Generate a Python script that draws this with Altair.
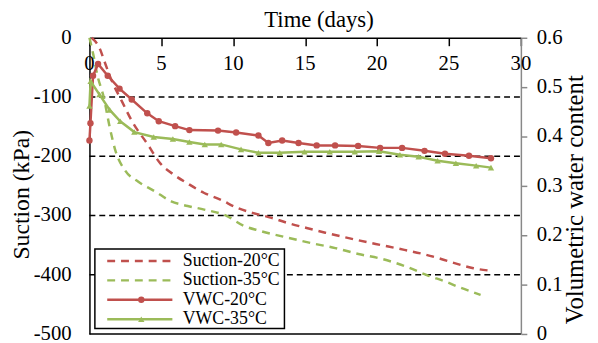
import altair as alt
import pandas as pd

FONT = "Liberation Serif"

labels = ["Suction-20°C", "Suction-35°C", "VWC-20°C", "VWC-35°C"]
colors = ["#C0504D", "#9BBB59", "#C0504D", "#9BBB59"]
dashes = [[8, 6], [8, 6], [1, 0], [1, 0]]
shapes = ["circle", "circle", "circle", "triangle-up"]

x_ticks = [0, 5, 10, 15, 20, 25, 30]
x_tick_labels = ["0", "5", "10", "15", "20", "25", "30"]
left_ticks = [0, -100, -200, -300, -400, -500]
left_tick_labels = ["0", "-100", "-200", "-300", "-400", "-500"]
right_ticks = [0, 0.1, 0.2, 0.3, 0.4, 0.5, 0.6]
right_tick_labels = ["0", "0.1", "0.2", "0.3", "0.4", "0.5", "0.6"]
grid_vals = [-100, -200, -300, -400]
titles = ["Time (days)", "Suction (kPa)", "Volumetric water content"]

days_s20 = [0.15, 0.75, 1.0, 1.56, 2.25, 2.94, 4.08, 4.89, 5.92, 6.83, 7.98, 9.1,
            10.26, 11.4, 12.66, 13.7, 15.1, 16.4, 17.8, 19.9, 21.9, 23.2, 24.4,
            25.9, 26.7, 27.8]
suction_20 = [0, -20, -37, -73, -107, -140, -181, -211, -232, -246, -262, -273,
              -287, -296, -304, -312, -321, -329, -337, -348, -358, -365, -373,
              -384, -389, -393]

days_s35 = [0, 0.3, 0.54, 1.0, 1.4, 1.8, 2.48, 3.4, 4.54, 5.68, 6.83, 7.98, 9.57,
            10.7, 11.86, 13.7, 15.5, 17.1, 18.7, 20.3, 22.1, 23.5, 24.8, 25.6, 27.2]
suction_35 = [0, -32, -62, -101, -150, -190, -224, -243, -259, -276, -284, -290,
              -301, -317, -326, -337, -347, -355, -365, -373, -387, -401, -412,
              -420, -434]

days_v20 = [0, 0.07, 0.25, 0.6, 1.27, 2.09, 2.94, 4.02, 4.82, 5.96, 6.95, 8.94,
            10.2, 11.75, 12.44, 13.4, 14.54, 15.8, 17.08, 18.68, 20.21, 21.74,
            23.3, 24.72, 26.39, 27.92]
vwc_20 = [0.392, 0.427, 0.523, 0.547, 0.523, 0.497, 0.475, 0.447, 0.431, 0.421,
          0.413, 0.412, 0.408, 0.402, 0.387, 0.392, 0.387, 0.382, 0.382, 0.381,
          0.377, 0.377, 0.371, 0.365, 0.361, 0.356]

days_v35 = [0, 0.08, 0.7, 1.41, 2.14, 3.12, 4.47, 5.8, 6.95, 8.02, 9.16, 10.54,
            11.75, 13.23, 14.95, 16.71, 18.45, 20.14, 21.59, 22.89, 24.21, 25.48,
            26.89, 27.92]
vwc_35 = [0.462, 0.512, 0.485, 0.454, 0.431, 0.409, 0.399, 0.395, 0.389, 0.384,
          0.384, 0.374, 0.367, 0.367, 0.369, 0.369, 0.369, 0.37, 0.363, 0.359,
          0.351, 0.346, 0.341, 0.337]

suction_df = pd.concat([
    pd.DataFrame({"day": days_s20, "value": suction_20, "series": labels[0]}),
    pd.DataFrame({"day": days_s35, "value": suction_35, "series": labels[1]}),
])
vwc_df = pd.concat([
    pd.DataFrame({"day": days_v20, "vwc": vwc_20, "series": labels[2]}),
    pd.DataFrame({"day": days_v35, "vwc": vwc_35, "series": labels[3]}),
])
grid_df = pd.DataFrame({"g": grid_vals})
legend_df = pd.DataFrame({"label": labels, "idx": list(range(len(labels)))})
xlab_df = pd.DataFrame({"t": x_ticks, "txt": x_tick_labels})
llab_df = pd.DataFrame({"t": left_ticks, "txt": left_tick_labels})
rlab_df = pd.DataFrame({"t": right_ticks, "txt": right_tick_labels})

W, H = 437, 300

cscale = alt.Scale(domain=labels, range=colors)
dscale = alt.Scale(domain=labels, range=dashes)
sscale = alt.Scale(domain=labels, range=shapes)

x_axis = alt.Axis(orient="bottom", offset=-H, values=x_ticks, tickSize=8,
                  tickColor="black", tickWidth=1.5, domainColor="black",
                  domainWidth=1.5, labels=False, title=None, grid=False)
x_scale = alt.Scale(domain=[0, 30], nice=False)
x_enc = alt.X("day:Q", scale=x_scale, axis=x_axis)

left_scale = alt.Scale(domain=[-500, 0], nice=False)
left_axis = alt.Axis(orient="left", values=left_ticks, ticks=False, tickSize=0,
                     domainColor="black", domainWidth=1.5, labels=False,
                     title=None, grid=False)

right_scale = alt.Scale(domain=[0, 0.6], nice=False)
right_axis = alt.Axis(orient="right", values=right_ticks, tickSize=6,
                      tickColor="#888888", tickWidth=1.5, domainColor="#888888",
                      domainWidth=1.5, labels=False, title=None, grid=False)

TXT = dict(font=FONT, fontSize=21, color="black")

grid = alt.Chart(grid_df).mark_rule(color="black", strokeWidth=1.5,
                                     strokeDash=[6, 4]).encode(
    y=alt.Y("g:Q", scale=left_scale, axis=left_axis),
    x=alt.value(0), x2=alt.value(W))

bottom = alt.Chart(pd.DataFrame({"b": [-500]})).mark_rule(
    color="black", strokeWidth=1.5).encode(
    y=alt.Y("b:Q", scale=left_scale, axis=left_axis),
    x=alt.value(0), x2=alt.value(W))

suction = alt.Chart(suction_df).mark_line(strokeWidth=2.5, interpolate="monotone").encode(
    x=x_enc,
    y=alt.Y("value:Q", scale=left_scale, axis=left_axis),
    color=alt.Color("series:N", scale=cscale, legend=None),
    strokeDash=alt.StrokeDash("series:N", scale=dscale, legend=None),
    detail="series:N")

left_labels = alt.Chart(llab_df).mark_text(align="right", baseline="middle",
                                           **TXT).encode(
    y=alt.Y("t:Q", scale=left_scale, axis=left_axis),
    x=alt.value(-18), text="txt:N")

xlabels = alt.Chart(xlab_df).mark_text(align="center", baseline="middle",
                                       **TXT).encode(
    x=alt.X("t:Q", scale=x_scale, axis=x_axis),
    y=alt.value(27), text="txt:N")

left = alt.layer(grid, bottom, suction, left_labels, xlabels)

vwc_line = alt.Chart(vwc_df).mark_line(strokeWidth=2.5).encode(
    x=x_enc,
    y=alt.Y("vwc:Q", scale=right_scale, axis=right_axis),
    color=alt.Color("series:N", scale=cscale, legend=None),
    detail="series:N")
vwc_pts = alt.Chart(vwc_df).mark_point(filled=True, size=42, opacity=1).encode(
    x=x_enc,
    y=alt.Y("vwc:Q", scale=right_scale, axis=right_axis),
    color=alt.Color("series:N", scale=cscale, legend=None),
    shape=alt.Shape("series:N", scale=sscale, legend=None))
right_labels = alt.Chart(rlab_df).mark_text(align="left", baseline="middle",
                                            **TXT).encode(
    y=alt.Y("t:Q", scale=right_scale, axis=right_axis),
    x=alt.value(W + 16), text="txt:N")
right = alt.layer(vwc_line, vwc_pts, right_labels)

box = alt.Chart(pd.DataFrame({"a": [0]})).mark_rect(
    fill="white", stroke="black", strokeWidth=1.5).encode(
    x=alt.value(5.5), x2=alt.value(197.5), y=alt.value(214), y2=alt.value(294.5))

leg_base = alt.Chart(legend_df).transform_calculate(ly="226 + datum.idx * 19.7")
leg_lines = leg_base.mark_rule(strokeWidth=2.5).encode(
    x=alt.value(18), x2=alt.value(84),
    y=alt.Y("ly:Q", scale=None, axis=None),
    color=alt.Color("label:N", scale=cscale, legend=None),
    strokeDash=alt.StrokeDash("label:N", scale=dscale, legend=None))
leg_pts = leg_base.transform_filter("datum.idx >= 2").mark_point(
    filled=True, size=42, opacity=1).encode(
    x=alt.value(52.5),
    y=alt.Y("ly:Q", scale=None, axis=None),
    color=alt.Color("label:N", scale=cscale, legend=None),
    shape=alt.Shape("label:N", scale=sscale, legend=None))
leg_text = leg_base.mark_text(align="left", baseline="middle", font=FONT,
                              fontSize=18, color="black").encode(
    x=alt.value(94.5),
    y=alt.Y("ly:Q", scale=None, axis=None),
    text="label:N")

t_x = alt.Chart(pd.DataFrame({"txt": [titles[0]]})).mark_text(
    align="center", baseline="middle", font=FONT, fontSize=23, color="black").encode(
    x=alt.value(232.5), y=alt.value(-17.5), text="txt:N")
t_l = alt.Chart(pd.DataFrame({"txt": [titles[1]]})).mark_text(
    align="center", baseline="middle", angle=270, font=FONT, fontSize=24,
    color="black").encode(x=alt.value(-68.5), y=alt.value(159), text="txt:N")
t_r = alt.Chart(pd.DataFrame({"txt": [titles[2]]})).mark_text(
    align="center", baseline="middle", angle=270, font=FONT, fontSize=25,
    color="black").encode(x=alt.value(W + 55), y=alt.value(164), text="txt:N")

legend = alt.layer(box, leg_lines, leg_pts, leg_text, t_x, t_l, t_r)

chart = alt.layer(left, right, legend).resolve_scale(y="independent").properties(
    width=W, height=H,
    autosize=alt.AutoSizeParams(type="none"),
    padding={"left": 82.5, "top": 28, "right": 70, "bottom": 10},
    background="white",
).configure_view(stroke=None)

chart.save("out.html", embed_options={"renderer": "svg", "actions": False})
